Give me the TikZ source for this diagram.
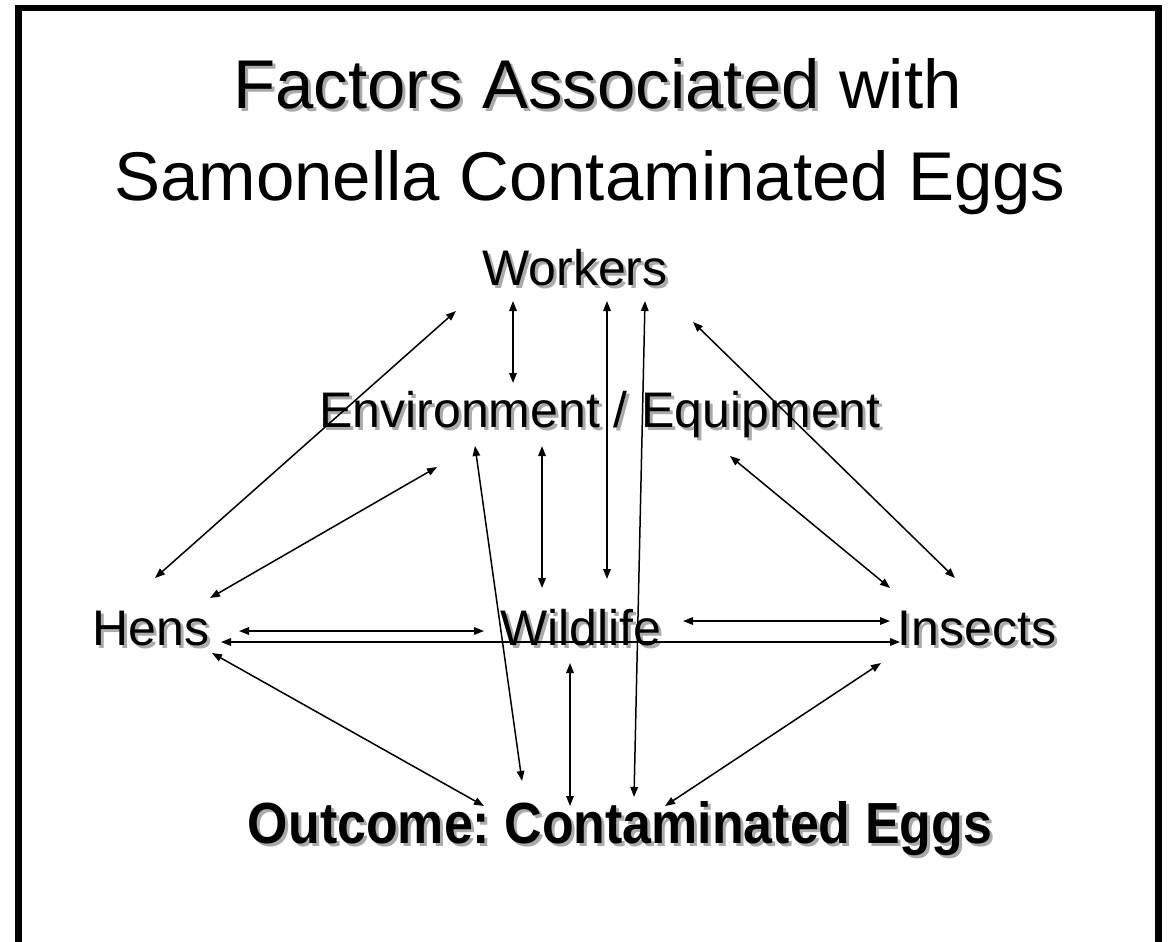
\documentclass[tikz,border=0pt]{standalone}
\usepackage{fontspec}
\setmainfont{Liberation Sans}
\usetikzlibrary{arrows.meta,calc}
\frenchspacing

\definecolor{shadowgrey}{RGB}{170,170,170}

\tikzset{
  lbl/.style={inner sep=0pt, anchor=base, font=\fontsize{50}{60}\selectfont},
  ttl/.style={inner sep=0pt, anchor=base, font=\fontsize{69}{80}\selectfont},
  outc/.style={inner sep=0pt, anchor=base, font=\fontsize{58}{68}\selectfont\bfseries},
  dbl/.style={line width=1.5pt,
    {Triangle[length=10pt,width=7.5pt]}-{Triangle[length=10pt,width=7.5pt]}},
  frame/.style={line width=6.5pt, line join=miter}
}

% label with a soft drop shadow: #1 name, #2 style, #3 position, #4 text
\newcommand\shadowlabel[4]{%
  \node[#2, text=shadowgrey] at ($(#3)+(3,3)$) {#4};
  \node[#2] (#1) at (#3) {#4};
}

\begin{document}
\begin{tikzpicture}[x=1pt, y=-1pt]
\useasboundingbox (0,0) rectangle (1170,942);
\fill[white] (0,0) rectangle (1170,942);

% open frame (no bottom edge)
\draw[frame] (18.5,945) -- (18.5,8) -- (1158.5,8) -- (1158.5,945);

% title
\node[ttl, anchor=base west, text=shadowgrey] at (236,111) {Factors Associated};
\node[ttl, anchor=base west] (title1) at (233,108) {Factors Associated\phantom{ with}};
\node[ttl, anchor=base west] at (title1.base west) {\phantom{Factors Associated} with};
\node[ttl] (title2) at (590,200) {Samonella Contaminated Eggs};

% factors
\shadowlabel{workers}{lbl}{575,285}{Workers}
\shadowlabel{envequip}{lbl}{600,427}{Environment / Equipment}
\shadowlabel{hens}{lbl}{151,645}{Hens}
\shadowlabel{wildlife}{lbl}{581,645}{Wildlife}
\shadowlabel{insects}{lbl}{977,645}{Insects}
\shadowlabel{outcome}{outc}{620,843}{\scalebox{0.895}[1]{Outcome: Contaminated Eggs}}

% connector ends near each factor
\coordinate (wk-h) at (456,311);   \coordinate (h-wk) at (155,578);
\coordinate (wk-e) at (513,301);   \coordinate (e-wk) at (513,383);
\coordinate (wk-w) at (607,301);   \coordinate (w-wk) at (607,579);
\coordinate (wk-o) at (645,301);   \coordinate (o-wk) at (634,797);
\coordinate (wk-i) at (693,322);   \coordinate (i-wk) at (955,578);
\coordinate (e-h)  at (437,467);   \coordinate (h-e)  at (210,598);
\coordinate (e-w)  at (542,446);   \coordinate (w-e)  at (542,588);
\coordinate (e-o)  at (475,446);   \coordinate (o-e)  at (522,781);
\coordinate (e-i)  at (730,456);   \coordinate (i-e)  at (890,588);
\coordinate (h-w)  at (239,631);   \coordinate (w-h)  at (484,631);
\coordinate (h-i)  at (221,642);   \coordinate (i-h)  at (900,642);
\coordinate (w-i)  at (683,621);   \coordinate (i-w)  at (890,621);
\coordinate (h-o)  at (212,653);   \coordinate (o-h)  at (484,806);
\coordinate (w-o)  at (570,663);   \coordinate (o-w)  at (570,806);
\coordinate (i-o)  at (881,663);   \coordinate (o-i)  at (665,806);

% two-way links
\draw[dbl] (wk-h) -- (h-wk);
\draw[dbl] (wk-e) -- (e-wk);
\draw[dbl] (wk-w) -- (w-wk);
\draw[dbl] (wk-o) -- (o-wk);
\draw[dbl] (wk-i) -- (i-wk);
\draw[dbl] (e-h) -- (h-e);
\draw[dbl] (e-w) -- (w-e);
\draw[dbl] (e-o) -- (o-e);
\draw[dbl] (e-i) -- (i-e);
\draw[dbl] (h-w) -- (w-h);
\draw[dbl] (h-i) -- (i-h);
\draw[dbl] (w-i) -- (i-w);
\draw[dbl] (h-o) -- (o-h);
\draw[dbl] (w-o) -- (o-w);
\draw[dbl] (i-o) -- (o-i);
\end{tikzpicture}
\end{document}
